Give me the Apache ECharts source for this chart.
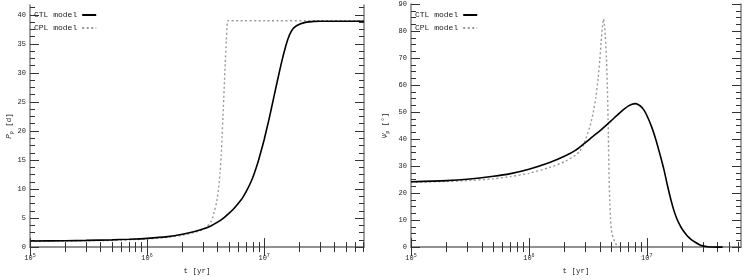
<!DOCTYPE html>
<html><head><meta charset="utf-8">
<script src="https://cdn.jsdelivr.net/npm/echarts@6/dist/echarts.min.js"></script>
<style>html,body{margin:0;padding:0;background:#fff}#c{width:747px;height:280px}</style>
</head><body><div id="c"></div>
<script>
// ---- data ----
const leftCTLTime   = [1e5, 2e5, 3e5, 5e5, 7e5, 1e6, 1.5e6, 2e6, 2.5e6, 3e6, 3.5e6, 4e6, 4.5e6, 5e6, 5.5e6, 6e6, 6.5e6, 7e6, 7.5e6, 8e6, 8.5e6, 9e6, 9.5e6, 1e7, 1.1e7, 1.2e7, 1.3e7, 1.4e7, 1.5e7, 1.6e7, 1.7e7, 1.8e7, 2e7, 2.3e7, 2.7e7, 3e7, 4e7, 5e7, 7.13e7];
const leftCTLPeriod = [1.05, 1.1, 1.15, 1.25, 1.35, 1.5, 1.8, 2.2, 2.65, 3.1, 3.65, 4.3, 5.0, 5.8, 6.6, 7.5, 8.4, 9.5, 10.7, 12, 13.5, 15.1, 16.8, 18.5, 22, 25.5, 28.7, 31.6, 34, 35.9, 37.1, 37.8, 38.4, 38.75, 38.88, 38.9, 38.9, 38.9, 38.9];
const leftCPLTime   = [1e5, 2e5, 3e5, 5e5, 7e5, 1e6, 1.5e6, 2e6, 2.5e6, 3e6, 3.24e6, 3.5e6, 3.7e6, 3.94e6, 4.1e6, 4.2e6, 4.3e6, 4.37e6, 4.45e6, 4.55e6, 4.65e6, 4.75e6, 4.85e6, 4.9e6, 6e6, 1e7, 3e7, 7.13e7];
const leftCPLPeriod = [1.0, 1.05, 1.1, 1.15, 1.25, 1.4, 1.7, 2.05, 2.5, 3.0, 3.5, 4.3, 5.6, 7.9, 10.5, 12.8, 15.8, 19, 22.5, 27, 31.5, 35.5, 38.8, 39.0, 39.0, 39.0, 39.0, 39.0];

const rightCTLTime = [1e5, 2e5, 3e5, 5e5, 7e5, 1e6, 1.5e6, 2e6, 2.5e6, 3e6, 3.5e6, 4e6, 4.5e6, 5e6, 5.5e6, 6e6, 6.5e6, 7e6, 7.5e6, 8e6, 8.5e6, 9e6, 9.5e6, 1e7, 1.1e7, 1.2e7, 1.3e7, 1.4e7, 1.5e7, 1.6e7, 1.7e7, 1.8e7, 1.9e7, 2e7, 2.2e7, 2.4e7, 2.6e7, 2.8e7, 3e7, 3.3e7, 3.6e7, 4e7, 4.4e7];
const rightCTLPsi  = [24.2, 24.6, 25.1, 26.2, 27.2, 28.8, 31.3, 33.6, 35.9, 38.6, 41, 43, 45, 46.8, 48.5, 50, 51.3, 52.3, 52.9, 53.1, 52.7, 51.9, 50.6, 48.8, 44.5, 39.5, 34, 28.6, 22.7, 17.6, 13.5, 10.5, 8.3, 6.6, 4.2, 2.7, 1.7, 0.9, 0.45, 0.15, 0.04, 0, 0];
const rightCPLTime = [1e5, 2e5, 3e5, 5e5, 7e5, 1e6, 1.5e6, 2e6, 2.5e6, 2.7e6, 2.9e6, 3.08e6, 3.3e6, 3.5e6, 3.7e6, 3.87e6, 4.0e6, 4.1e6, 4.2e6, 4.3e6, 4.38e6, 4.45e6, 4.55e6, 4.65e6, 4.72e6, 4.78e6, 4.85e6, 4.92e6, 5.0e6, 5.1e6, 5.2e6, 5.37e6, 5.55e6, 5.7e6];
const rightCPLPsi  = [24.0, 24.3, 24.6, 25.3, 26.1, 27.3, 29.5, 31.6, 34.1, 35.5, 37.8, 40.8, 44.8, 49.4, 55.5, 62.6, 69.5, 76, 81.5, 84.5, 82, 78, 70, 56, 42, 27, 17.5, 11, 6.5, 4.6, 3.4, 1.8, 0.7, 0.2];

// ---- tick labels ----
const xMajorTicks = [1e5, 1e6, 1e7];
const xMinorTicks = [2e5,3e5,4e5,5e5,6e5,7e5,8e5,9e5, 2e6,3e6,4e6,5e6,6e6,7e6,8e6,9e6, 2e7,3e7,4e7,5e7,6e7,7e7];
const leftYMajorTicks  = [0, 5, 10, 15, 20, 25, 30, 35, 40];
const leftYMinorTicks  = [1.25,2.5,3.75,6.25,7.5,8.75,11.25,12.5,13.75,16.25,17.5,18.75,21.25,22.5,23.75,26.25,27.5,28.75,31.25,32.5,33.75,36.25,37.5,38.75,41.25];
const rightYMajorTicks = [0, 10, 20, 30, 40, 50, 60, 70, 80, 90];
const rightYMinorTicks = [2.5,5,7.5,12.5,15,17.5,22.5,25,27.5,32.5,35,37.5,42.5,45,47.5,52.5,55,57.5,62.5,65,67.5,72.5,75,77.5,82.5,85,87.5];

const FONT = 'Liberation Mono';
const AX = '#8a8a8a', TK = '#333', TXT = '#222';

const panels = [
  {grid:{left:30, right:383, top:5, bottom:26}, xmax:7.13e7, ymax:41.7, yMaj:leftYMajorTicks, yMin:leftYMinorTicks,
   yName:'{i|P}{s|p} [d]', nameGap:16, legendLeft:34,
   ctl:[leftCTLTime,leftCTLPeriod], cpl:[leftCPLTime,leftCPLPeriod]},
  {grid:{left:411, right:6, top:4, bottom:26}, xmax:6.3e7, ymax:90, yMaj:rightYMajorTicks, yMin:rightYMinorTicks,
   yName:'{i|Ψ}{s|p} [°]', nameGap:21, legendLeft:415,
   ctl:[rightCTLTime,rightCTLPsi], cpl:[rightCPLTime,rightCPLPsi]}
];

const zip = (a,b) => a.map((v,i)=>[v,b[i]]);
const grid=[], xAxis=[], yAxis=[], series=[], legend=[];
panels.forEach((p,g)=>{
  grid.push(p.grid);
  const xBase = {type:'log', gridIndex:g, min:1e5, max:p.xmax, logBase:10, splitLine:{show:false}};
  const xi = xAxis.length;
  xAxis.push(Object.assign({}, xBase, {position:'bottom',
    axisLine:{show:true, lineStyle:{color:AX, width:1.6}},
    axisTick:{show:true, inside:true, length:9, customValues:xMajorTicks, lineStyle:{color:TK, width:1}},
    axisLabel:{show:true, customValues:xMajorTicks, margin:6, color:TXT, fontFamily:FONT, fontSize:7,
      formatter: v => '10{sup|' + Math.round(Math.log10(v)) + '}',
      rich:{sup:{fontSize:5, fontFamily:FONT, color:TXT, verticalAlign:'top', padding:[0,0,6,0]}}},
    name:'t [yr]', nameLocation:'middle', nameGap:19,
    nameTextStyle:{fontFamily:FONT, fontSize:7.5, color:TXT}}));
  xAxis.push(Object.assign({}, xBase, {position:'bottom', axisLine:{show:false}, axisLabel:{show:false},
    axisTick:{show:true, inside:true, length:5, customValues:xMinorTicks, lineStyle:{color:TK, width:1}}}));
  xAxis.push(Object.assign({}, xBase, {position:'top', axisLine:{show:true, lineStyle:{color:AX, width:1.6}}, axisLabel:{show:false},
    axisTick:{show:true, inside:true, length:9, customValues:xMajorTicks, lineStyle:{color:TK, width:1}}}));
  xAxis.push(Object.assign({}, xBase, {position:'top', axisLine:{show:false}, axisLabel:{show:false},
    axisTick:{show:true, inside:true, length:5, customValues:xMinorTicks, lineStyle:{color:TK, width:1}}}));

  const yBase = {type:'value', gridIndex:g, min:0, max:p.ymax, splitLine:{show:false}};
  const yi = yAxis.length;
  yAxis.push(Object.assign({}, yBase, {position:'left',
    axisLine:{show:true, lineStyle:{color:AX, width:1.6}},
    axisTick:{show:true, inside:true, length:9, customValues:p.yMaj, lineStyle:{color:TK, width:1}},
    axisLabel:{show:true, customValues:p.yMaj, margin:4, color:TXT, fontFamily:FONT, fontSize:7},
    name:p.yName, nameLocation:'middle', nameGap:p.nameGap, nameRotate:90,
    nameTextStyle:{fontFamily:FONT, fontSize:7.5, color:TXT,
      rich:{i:{fontFamily:FONT, fontSize:7.5, fontStyle:'italic', color:TXT}, s:{fontFamily:FONT, fontSize:5, color:TXT, verticalAlign:'bottom', padding:[4,0,0,0]}}}}));
  yAxis.push(Object.assign({}, yBase, {position:'left', axisLine:{show:false}, axisLabel:{show:false},
    axisTick:{show:true, inside:true, length:5, customValues:p.yMin, lineStyle:{color:TK, width:1}}}));
  yAxis.push(Object.assign({}, yBase, {position:'right', axisLine:{show:true, lineStyle:{color:AX, width:1.6}}, axisLabel:{show:false},
    axisTick:{show:true, inside:true, length:9, customValues:p.yMaj, lineStyle:{color:TK, width:1}}}));
  yAxis.push(Object.assign({}, yBase, {position:'right', axisLine:{show:false}, axisLabel:{show:false},
    axisTick:{show:true, inside:true, length:5, customValues:p.yMin, lineStyle:{color:TK, width:1}}}));

  series.push({name:'CTL model', type:'line', xAxisIndex:xi, yAxisIndex:yi, data:zip(p.ctl[0],p.ctl[1]),
    symbol:'none', smooth:0.25, lineStyle:{color:'#000', width:1.6}, itemStyle:{color:'#000'}, z:3});
  series.push({name:'CPL model', type:'line', xAxisIndex:xi, yAxisIndex:yi, data:zip(p.cpl[0],p.cpl[1]),
    symbol:'none', smooth:0.2, lineStyle:{color:'#999', width:1.4, type:[2,2.5]}, itemStyle:{color:'#999'}, z:2});

  legend.push({left:p.legendLeft, top:11, orient:'vertical', align:'right', padding:0, itemGap:5,
    itemWidth:14, itemHeight:8, data:['CTL model','CPL model'],
    itemStyle:{opacity:0},
    textStyle:{fontFamily:FONT, fontSize:8, color:TXT}});
});

const chart = echarts.init(document.getElementById('c'), null, {renderer:'canvas'});
chart.setOption({animation:false, backgroundColor:'#fff', grid, xAxis, yAxis, series, legend});
</script></body></html>
